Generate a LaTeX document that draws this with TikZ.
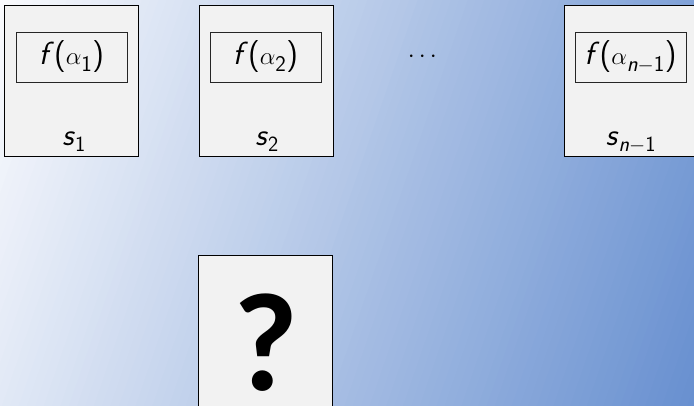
\documentclass[tikz,border=0pt]{standalone}
\usepackage{amsmath}
\usepackage{fontspec}
\newfontfamily\qfont{Carlito}
\definecolor{bgleft}{HTML}{F9FAFD}
\definecolor{bgright}{HTML}{6890D0}
\definecolor{boxfill}{HTML}{F2F2F2}
\newcommand\si[1]{\textsf{\textit{#1}}}
\newcommand\su[1]{\textsf{#1}}
\begin{document}
\begin{tikzpicture}[x=1pt,y=-1pt,
  card/.style={draw=black,line width=0.8pt,fill=boxfill,minimum width=134pt,minimum height=151pt,inner sep=0pt},
  fbox/.style={draw=black!85,line width=0.6pt,minimum width=111pt,minimum height=50pt,inner sep=0pt,font=\fontsize{32}{36}\selectfont\sffamily},
  lab/.style={inner sep=0pt,font=\fontsize{31}{36}\selectfont\sffamily,anchor=base}]
\useasboundingbox (0,0) rectangle (694,405);
\clip (0,0) rectangle (694,405);
% diagonal background gradient built from thin strips
\pgfmathsetmacro\ct{cos(19)}
\pgfmathsetmacro\st{sin(19)}
\foreach \i in {0,...,99}{
  \pgfmathsetmacro\ta{ifthenelse(\i==0,-60,\i*7.9)}
  \pgfmathsetmacro\tb{ifthenelse(\i==99,900,(\i+1)*7.9+0.8)}
  \pgfmathtruncatemacro\p{round(\i*100/99)}
  \fill[bgright!\p!bgleft]
    ({\ta*\ct+300*\st},{\ta*\st-300*\ct}) --
    ({\ta*\ct-450*\st},{\ta*\st+450*\ct}) --
    ({\tb*\ct-450*\st},{\tb*\st+450*\ct}) --
    ({\tb*\ct+300*\st},{\tb*\st-300*\ct}) -- cycle;
}
% cards
\node[card] (c1) at (71,80.5) {};
\node[card] (c2) at (266,80.5) {};
\node[card] (c3) at (631,80.5) {};
\node[card] (c4) at (265.5,330.5) {};
% inner boxes
\node[fbox] (f1) at (71.5,57) {\si{f}\su{(}$\alpha_{\su{1}}$\su{)}};
\node[fbox] (f2) at (265.5,57) {\si{f}\su{(}$\alpha_{\su{2}}$\su{)}};
\node[fbox] (f3) at (630.5,57) {\si{f}\su{(}$\alpha_{\si{n}-\su{1}}$\su{)}};
% labels
\node[lab] (s1) at (74,145) {$\si{s}_{\su{1}}$};
\node[lab] (s2) at (267,145) {$\si{s}_{\su{2}}$};
\node[lab] (s3) at (631,145) {$\si{s}_{\si{n}-\su{1}}$};
\node[inner sep=0pt,font=\fontsize{31}{36}\selectfont] (dots) at (424.5,57) {$\cdots$};
\node[inner sep=0pt,anchor=base,text height=96pt,text depth=0pt,font=\fontsize{140}{142}\qfont\bfseries] (q) at (265.5,390) {?};
\end{tikzpicture}
\end{document}
